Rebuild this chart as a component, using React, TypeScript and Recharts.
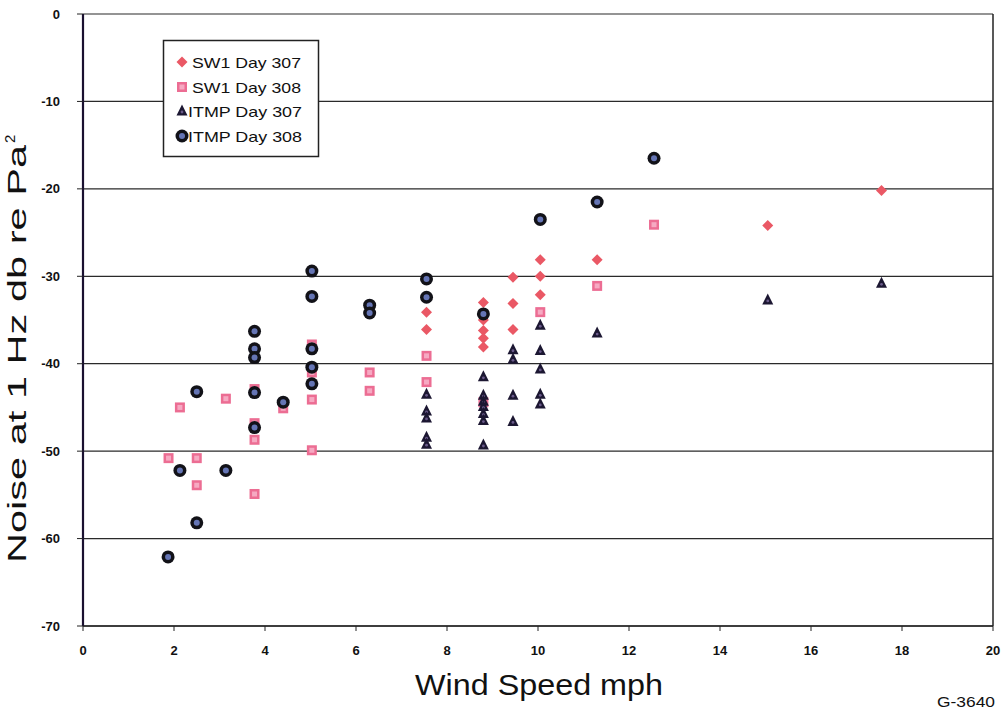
import React from "react";
import { ScatterChart, Scatter, XAxis, YAxis, CartesianGrid, ReferenceLine } from "recharts";

// Wind speed (mph), noise (dB re Pa^2) pairs
const sw1Day307: [number, number][] = [
  [7.55, -34.1], [7.55, -36.1],
  [8.8, -33.0], [8.8, -35.0], [8.8, -36.2], [8.8, -37.1], [8.8, -38.1],
  [9.45, -30.1], [9.45, -33.1], [9.45, -36.1],
  [10.05, -28.1], [10.05, -30.0], [10.05, -32.1],
  [11.3, -28.1], [15.05, -24.2], [17.55, -20.2],
];
const sw1Day308: [number, number][] = [
  [1.88, -50.8], [2.13, -45.0], [2.5, -50.8], [2.5, -53.9], [3.14, -44.0],
  [3.77, -42.9], [3.77, -46.8], [3.77, -48.7], [3.77, -54.9], [4.4, -45.1],
  [5.03, -37.8], [5.03, -41.0], [5.03, -44.1], [5.03, -49.9],
  [6.3, -41.0], [6.3, -43.1], [7.55, -39.1], [7.55, -42.1], [8.8, -44.4],
  [10.05, -34.1], [11.3, -31.1], [12.55, -24.1],
];
const itmpDay307: [number, number][] = [
  [7.55, -43.5], [7.55, -45.4], [7.55, -46.2], [7.55, -48.4], [7.55, -49.2],
  [8.8, -41.5], [8.8, -43.6], [8.8, -44.3], [8.8, -44.9], [8.8, -45.7], [8.8, -46.5], [8.8, -49.3],
  [9.45, -38.4], [9.45, -39.5], [9.45, -43.6], [9.45, -46.6],
  [10.05, -35.6], [10.05, -38.5], [10.05, -40.6], [10.05, -43.5], [10.05, -44.6],
  [11.3, -36.5], [15.05, -32.7], [17.55, -30.8],
];
const itmpDay308: [number, number][] = [
  [1.87, -62.1], [2.13, -52.2], [2.5, -43.2], [2.5, -58.2], [3.14, -52.2],
  [3.77, -36.3], [3.77, -38.3], [3.77, -39.3], [3.77, -43.3], [3.77, -47.3],
  [4.4, -44.4], [5.03, -29.4], [5.03, -32.3], [5.03, -38.3], [5.03, -40.4], [5.03, -42.3],
  [6.3, -33.3], [6.3, -34.2], [7.55, -30.3], [7.55, -32.4], [8.8, -34.3],
  [10.05, -23.5], [11.3, -21.5], [12.55, -16.5],
];

const xTicks = [0, 2, 4, 6, 8, 10, 12, 14, 16, 18, 20];
const yTicks = [-70, -60, -50, -40, -30, -20, -10, 0];
const seriesNames = ["SW1 Day 307", "SW1 Day 308", "ITMP Day 307", "ITMP Day 308"];
const xTitle = "Wind Speed mph";
const yTitle = "Noise at 1 Hz db re Pa";
const figureId = "G-3640";

const toPts = (arr: [number, number][]) => arr.map(([x, y]) => ({ x, y }));

const FONT = "'Liberation Sans', Arial, sans-serif";

const Diamond = ({ cx, cy }: any) => (
  <path d={`M${cx},${cy - 5.5}L${cx + 5.5},${cy}L${cx},${cy + 5.5}L${cx - 5.5},${cy}Z`} fill="#ea5865" />
);
const Square = ({ cx, cy }: any) => (
  <g>
    <rect x={cx - 5} y={cy - 5} width={10} height={10} fill="#ec6d93" />
    <rect x={cx - 2.5} y={cy - 2.5} width={5} height={5} fill="#f6a9c2" />
  </g>
);
const Triangle = ({ cx, cy }: any) => (
  <g>
    <path d={`M${cx},${cy - 6.5}L${cx + 5.5},${cy + 4.5}L${cx - 5.5},${cy + 4.5}Z`} fill="#1c1732" />
    <circle cx={cx} cy={cy + 1} r={1.4} fill="#6a5a8a" />
  </g>
);
const Circle = ({ cx, cy }: any) => (
  <g>
    <circle cx={cx} cy={cy} r={6.5} fill="#121218" />
    <circle cx={cx} cy={cy} r={3} fill="#6575b5" />
  </g>
);

const shapes = [Diamond, Square, Triangle, Circle];

export default function App() {
  const legendRows = [62, 87, 111, 136];
  return (
    <div style={{ position: "absolute", left: 0, top: 0, width: 1005, height: 713, background: "#fff" }}>
      <ScatterChart width={1005} height={713} margin={{ top: 14, right: 12, bottom: 47, left: 23 }}>
        <CartesianGrid horizontal vertical={false} stroke="#2a2a2a" strokeWidth={1.2} />
        <XAxis
          type="number"
          dataKey="x"
          domain={[0, 20]}
          ticks={xTicks}
          height={40}
          tickSize={5}
          tickMargin={15}
          axisLine={{ stroke: "#222", strokeWidth: 1.5 }}
          tickLine={{ stroke: "#222" }}
          tick={{ fill: "#111", fontSize: 13, fontWeight: "bold", fontFamily: FONT }}
        />
        <YAxis
          type="number"
          dataKey="y"
          domain={[-70, 0]}
          ticks={yTicks}
          width={60}
          tickSize={6}
          tickMargin={17}
          axisLine={{ stroke: "#1a1030", strokeWidth: 2.2 }}
          tickLine={{ stroke: "#222" }}
          tick={{ fill: "#111", fontSize: 13, fontWeight: "bold", fontFamily: FONT }}
        />
        <ReferenceLine x={20} stroke="#222" strokeWidth={1.5} />
        <Scatter name={seriesNames[1]} data={toPts(sw1Day308)} isAnimationActive={false} shape={(p: any) => <Square cx={p.cx} cy={p.cy} />} />
        <Scatter name={seriesNames[0]} data={toPts(sw1Day307)} isAnimationActive={false} shape={(p: any) => <Diamond cx={p.cx} cy={p.cy} />} />
        <Scatter name={seriesNames[2]} data={toPts(itmpDay307)} isAnimationActive={false} shape={(p: any) => <Triangle cx={p.cx} cy={p.cy} />} />
        <Scatter name={seriesNames[3]} data={toPts(itmpDay308)} isAnimationActive={false} shape={(p: any) => <Circle cx={p.cx} cy={p.cy} />} />
      </ScatterChart>
      <svg width={1005} height={713} style={{ position: "absolute", left: 0, top: 0, pointerEvents: "none" }}>
        <text
          x={26}
          y={563}
          transform="rotate(-90, 26, 563)"
          fontFamily={FONT}
          fontSize={25}
          fill="#111"
          textLength={418}
          lengthAdjust="spacingAndGlyphs"
        >
          {yTitle}
        </text>
        <text x={15} y={143} transform="rotate(-90, 15, 143)" fontFamily={FONT} fontSize={15} fill="#111">
          2
        </text>
        <text x={415} y={695} fontFamily={FONT} fontSize={30} fill="#111" textLength={248} lengthAdjust="spacingAndGlyphs">
          {xTitle}
        </text>
        <text x={937} y={707} fontFamily={FONT} fontSize={15} fill="#111" textLength={58} lengthAdjust="spacingAndGlyphs">
          {figureId}
        </text>
        <rect x={163.5} y={40.5} width={155} height={116} fill="#fff" stroke="#222" strokeWidth={1.5} />
        {seriesNames.map((n, i) => {
          const S = shapes[i];
          const y = legendRows[i];
          return (
            <g key={n}>
              <S cx={182} cy={y} />
              <text
                x={i < 2 ? 192 : 188}
                y={y + 5.5}
                fontFamily={FONT}
                fontSize={15}
                fill="#111"
                textLength={i < 2 ? 109 : 114}
                lengthAdjust="spacingAndGlyphs"
              >
                {n}
              </text>
            </g>
          );
        })}
      </svg>
    </div>
  );
}
